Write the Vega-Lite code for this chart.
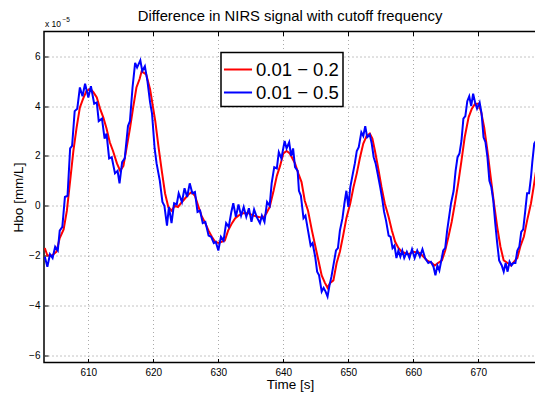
{
  "$schema": "https://vega.github.io/schema/vega-lite/v6.json",
  "width": 492,
  "height": 331,
  "autosize": {"type": "none"},
  "padding": {"left": 44, "top": 31.5, "right": 0, "bottom": 32.5},
  "background": "white",
  "title": {
    "text": "Difference in NIRS signal with cutoff frequency",
    "font": "Liberation Sans",
    "fontSize": 14.8,
    "fontWeight": "normal",
    "color": "black",
    "anchor": "middle",
    "baseline": "bottom",
    "offset": -22
  },
  "config": {
    "view": {"stroke": "black", "strokeWidth": 1.5},
    "axis": {
      "labelFont": "Liberation Sans",
      "titleFont": "Liberation Sans",
      "labelFontSize": 10,
      "labelColor": "black",
      "titleColor": "black",
      "titleFontSize": 13.5,
      "titleFontWeight": "normal",
      "domain": false,
      "tickColor": "black",
      "tickSize": -4,
      "tickWidth": 1,
      "gridDash": [1, 3],
      "gridColor": "#888888",
      "gridOpacity": 1,
      "gridWidth": 1
    }
  },
  "datasets": {
    "band_0_2": [
      {"t": 603.3, "hbo": -1.7}, {"t": 603.7, "hbo": -2.0}, {"t": 604.4, "hbo": -2.0}, {"t": 605.1, "hbo": -1.85},
      {"t": 605.6, "hbo": -1.3}, {"t": 606.2, "hbo": -0.95}, {"t": 606.7, "hbo": -0.2}, {"t": 607.2, "hbo": 1.0},
      {"t": 607.7, "hbo": 2.2}, {"t": 608.2, "hbo": 3.15}, {"t": 608.7, "hbo": 3.95}, {"t": 609.2, "hbo": 4.3},
      {"t": 609.7, "hbo": 4.6}, {"t": 610.3, "hbo": 4.7}, {"t": 610.8, "hbo": 4.55}, {"t": 611.3, "hbo": 4.35},
      {"t": 611.8, "hbo": 3.9}, {"t": 612.3, "hbo": 3.55}, {"t": 612.8, "hbo": 3.1}, {"t": 613.3, "hbo": 2.55},
      {"t": 613.8, "hbo": 2.2}, {"t": 614.4, "hbo": 1.7}, {"t": 614.9, "hbo": 1.4}, {"t": 615.4, "hbo": 1.6},
      {"t": 615.9, "hbo": 2.35}, {"t": 616.4, "hbo": 3.1}, {"t": 616.9, "hbo": 3.95}, {"t": 617.4, "hbo": 4.75},
      {"t": 617.9, "hbo": 5.1}, {"t": 618.2, "hbo": 5.4}, {"t": 618.9, "hbo": 5.28}, {"t": 619.5, "hbo": 4.68},
      {"t": 620.3, "hbo": 3.4}, {"t": 620.8, "hbo": 2.35}, {"t": 621.3, "hbo": 1.4}, {"t": 621.8, "hbo": 0.5},
      {"t": 622.3, "hbo": -0.05}, {"t": 622.8, "hbo": -0.2}, {"t": 623.3, "hbo": 0.0}, {"t": 623.8, "hbo": -0.05},
      {"t": 624.4, "hbo": 0.15}, {"t": 624.9, "hbo": 0.3}, {"t": 625.4, "hbo": 0.45}, {"t": 625.9, "hbo": 0.55},
      {"t": 626.4, "hbo": 0.4}, {"t": 626.9, "hbo": 0.0}, {"t": 627.4, "hbo": -0.4}, {"t": 627.9, "hbo": -0.65},
      {"t": 628.5, "hbo": -1.0}, {"t": 629.0, "hbo": -1.25}, {"t": 629.5, "hbo": -1.45}, {"t": 630.0, "hbo": -1.5},
      {"t": 630.5, "hbo": -1.45}, {"t": 631.0, "hbo": -1.4}, {"t": 631.5, "hbo": -1.0}, {"t": 632.1, "hbo": -0.7},
      {"t": 632.6, "hbo": -0.5}, {"t": 633.1, "hbo": -0.4}, {"t": 633.8, "hbo": -0.3}, {"t": 634.6, "hbo": -0.3},
      {"t": 635.4, "hbo": -0.4}, {"t": 636.2, "hbo": -0.45}, {"t": 636.9, "hbo": -0.5}, {"t": 637.4, "hbo": -0.3},
      {"t": 637.9, "hbo": -0.05}, {"t": 638.5, "hbo": 0.6}, {"t": 639.0, "hbo": 1.2}, {"t": 639.5, "hbo": 1.6},
      {"t": 640.0, "hbo": 2.1}, {"t": 640.5, "hbo": 2.2}, {"t": 641.0, "hbo": 2.1}, {"t": 641.5, "hbo": 1.85},
      {"t": 641.8, "hbo": 1.7}, {"t": 642.3, "hbo": 1.3}, {"t": 642.8, "hbo": 0.95}, {"t": 643.3, "hbo": 0.2},
      {"t": 643.8, "hbo": -0.2}, {"t": 644.4, "hbo": -1.0}, {"t": 644.9, "hbo": -1.6}, {"t": 645.4, "hbo": -2.2},
      {"t": 645.9, "hbo": -2.8}, {"t": 646.4, "hbo": -3.1}, {"t": 646.8, "hbo": -3.3}, {"t": 647.2, "hbo": -3.1},
      {"t": 647.7, "hbo": -3.0}, {"t": 648.2, "hbo": -2.3}, {"t": 648.7, "hbo": -1.85}, {"t": 649.2, "hbo": -1.2},
      {"t": 649.7, "hbo": -0.5}, {"t": 650.3, "hbo": 0.1}, {"t": 650.8, "hbo": 0.75}, {"t": 651.3, "hbo": 1.3},
      {"t": 651.8, "hbo": 1.95}, {"t": 652.3, "hbo": 2.5}, {"t": 652.8, "hbo": 2.8}, {"t": 653.3, "hbo": 2.9},
      {"t": 653.7, "hbo": 2.7}, {"t": 654.1, "hbo": 2.2}, {"t": 654.6, "hbo": 1.5}, {"t": 655.1, "hbo": 0.75},
      {"t": 655.6, "hbo": 0.1}, {"t": 656.2, "hbo": -0.45}, {"t": 656.7, "hbo": -1.0}, {"t": 657.2, "hbo": -1.45},
      {"t": 657.7, "hbo": -1.7}, {"t": 658.2, "hbo": -1.85}, {"t": 658.7, "hbo": -1.9}, {"t": 659.3, "hbo": -1.95},
      {"t": 660.0, "hbo": -1.85}, {"t": 661.0, "hbo": -1.9}, {"t": 662.1, "hbo": -2.2}, {"t": 662.8, "hbo": -2.3},
      {"t": 663.3, "hbo": -2.4}, {"t": 663.8, "hbo": -2.3}, {"t": 664.4, "hbo": -2.2}, {"t": 664.9, "hbo": -1.8},
      {"t": 665.4, "hbo": -1.25}, {"t": 665.9, "hbo": -0.65}, {"t": 666.4, "hbo": 0.1}, {"t": 666.9, "hbo": 0.9},
      {"t": 667.4, "hbo": 1.8}, {"t": 667.9, "hbo": 2.75}, {"t": 668.5, "hbo": 3.55}, {"t": 669.0, "hbo": 3.9},
      {"t": 669.5, "hbo": 4.1}, {"t": 670.0, "hbo": 4.1}, {"t": 670.4, "hbo": 3.8}, {"t": 670.9, "hbo": 3.15},
      {"t": 671.4, "hbo": 2.2}, {"t": 671.9, "hbo": 1.15}, {"t": 672.4, "hbo": 0.1}, {"t": 672.9, "hbo": -0.85},
      {"t": 673.4, "hbo": -1.65}, {"t": 673.9, "hbo": -2.2}, {"t": 674.5, "hbo": -2.3}, {"t": 675.0, "hbo": -2.4},
      {"t": 675.5, "hbo": -2.25}, {"t": 676.0, "hbo": -2.1}, {"t": 676.5, "hbo": -1.6}, {"t": 677.0, "hbo": -1.25},
      {"t": 677.5, "hbo": -0.6}, {"t": 678.1, "hbo": 0.1}, {"t": 678.5, "hbo": 0.75}, {"t": 678.85, "hbo": 1.35}
    ],
    "band_0_5": [
      {"t": 603.3, "hbo": -2.05}, {"t": 603.7, "hbo": -2.45}, {"t": 604.1, "hbo": -1.95}, {"t": 604.5, "hbo": -2.1},
      {"t": 604.9, "hbo": -1.65}, {"t": 605.3, "hbo": -1.8}, {"t": 605.6, "hbo": -1.0}, {"t": 606.0, "hbo": -0.85},
      {"t": 606.4, "hbo": 0.35}, {"t": 606.8, "hbo": 0.4}, {"t": 607.2, "hbo": 2.3}, {"t": 607.5, "hbo": 2.4},
      {"t": 607.9, "hbo": 3.8}, {"t": 608.3, "hbo": 3.9}, {"t": 608.7, "hbo": 4.75}, {"t": 609.1, "hbo": 4.4},
      {"t": 609.5, "hbo": 4.9}, {"t": 610.0, "hbo": 4.35}, {"t": 610.4, "hbo": 4.8}, {"t": 610.9, "hbo": 4.1},
      {"t": 611.3, "hbo": 4.15}, {"t": 611.6, "hbo": 3.4}, {"t": 612.1, "hbo": 3.5}, {"t": 612.5, "hbo": 2.7},
      {"t": 612.8, "hbo": 2.9}, {"t": 613.2, "hbo": 1.9}, {"t": 613.6, "hbo": 1.95}, {"t": 614.1, "hbo": 1.3},
      {"t": 614.5, "hbo": 1.4}, {"t": 614.8, "hbo": 0.9}, {"t": 615.2, "hbo": 1.75}, {"t": 615.6, "hbo": 1.9},
      {"t": 616.1, "hbo": 3.2}, {"t": 616.4, "hbo": 3.4}, {"t": 616.8, "hbo": 4.75}, {"t": 617.2, "hbo": 5.74},
      {"t": 617.5, "hbo": 5.55}, {"t": 618.0, "hbo": 5.84}, {"t": 618.3, "hbo": 5.41}, {"t": 618.7, "hbo": 5.6},
      {"t": 619.1, "hbo": 5.0}, {"t": 619.5, "hbo": 4.15}, {"t": 619.8, "hbo": 3.7}, {"t": 620.2, "hbo": 2.3},
      {"t": 620.5, "hbo": 1.7}, {"t": 621.0, "hbo": 1.0}, {"t": 621.4, "hbo": 0.15}, {"t": 621.7, "hbo": 0.0},
      {"t": 622.1, "hbo": -0.8}, {"t": 622.4, "hbo": -0.05}, {"t": 622.8, "hbo": -0.7}, {"t": 623.2, "hbo": 0.1},
      {"t": 623.6, "hbo": 0.05}, {"t": 623.9, "hbo": 0.5}, {"t": 624.4, "hbo": 0.15}, {"t": 624.8, "hbo": 0.7},
      {"t": 625.2, "hbo": 0.35}, {"t": 625.6, "hbo": 0.9}, {"t": 626.0, "hbo": 0.5}, {"t": 626.4, "hbo": 0.55},
      {"t": 626.8, "hbo": -0.25}, {"t": 627.2, "hbo": -0.2}, {"t": 627.6, "hbo": -0.7}, {"t": 628.0, "hbo": -0.65},
      {"t": 628.5, "hbo": -1.2}, {"t": 628.9, "hbo": -1.25}, {"t": 629.3, "hbo": -1.5}, {"t": 629.6, "hbo": -1.45},
      {"t": 630.0, "hbo": -1.8}, {"t": 630.4, "hbo": -1.25}, {"t": 630.8, "hbo": -1.4}, {"t": 631.2, "hbo": -0.7},
      {"t": 631.6, "hbo": -0.85}, {"t": 632.0, "hbo": -0.25}, {"t": 632.3, "hbo": 0.1}, {"t": 632.7, "hbo": -0.45},
      {"t": 633.1, "hbo": 0.05}, {"t": 633.5, "hbo": -0.4}, {"t": 633.9, "hbo": -0.05}, {"t": 634.3, "hbo": -0.45},
      {"t": 634.7, "hbo": -0.1}, {"t": 635.1, "hbo": -0.65}, {"t": 635.5, "hbo": -0.15}, {"t": 635.9, "hbo": -0.45},
      {"t": 636.4, "hbo": -0.7}, {"t": 636.7, "hbo": -0.4}, {"t": 637.1, "hbo": -0.65}, {"t": 637.5, "hbo": 0.15},
      {"t": 637.9, "hbo": 0.0}, {"t": 638.2, "hbo": 0.9}, {"t": 638.6, "hbo": 1.55}, {"t": 639.0, "hbo": 1.5},
      {"t": 639.3, "hbo": 2.15}, {"t": 639.7, "hbo": 1.9}, {"t": 640.2, "hbo": 2.6}, {"t": 640.5, "hbo": 2.3},
      {"t": 640.9, "hbo": 2.55}, {"t": 641.2, "hbo": 2.0}, {"t": 641.5, "hbo": 2.3}, {"t": 641.8, "hbo": 1.55},
      {"t": 642.2, "hbo": 1.4}, {"t": 642.4, "hbo": 0.6}, {"t": 642.7, "hbo": 0.4}, {"t": 643.1, "hbo": -0.5},
      {"t": 643.4, "hbo": -0.4}, {"t": 643.8, "hbo": -1.0}, {"t": 644.2, "hbo": -1.6}, {"t": 644.5, "hbo": -1.5},
      {"t": 644.9, "hbo": -2.05}, {"t": 645.2, "hbo": -2.65}, {"t": 645.5, "hbo": -2.8}, {"t": 645.9, "hbo": -3.45},
      {"t": 646.2, "hbo": -3.3}, {"t": 646.5, "hbo": -3.45}, {"t": 646.8, "hbo": -3.65}, {"t": 647.1, "hbo": -3.2},
      {"t": 647.4, "hbo": -2.85}, {"t": 647.7, "hbo": -2.4}, {"t": 648.1, "hbo": -1.8}, {"t": 648.4, "hbo": -1.7},
      {"t": 648.7, "hbo": -1.0}, {"t": 649.1, "hbo": -0.5}, {"t": 649.4, "hbo": 0.1}, {"t": 649.7, "hbo": 0.6},
      {"t": 650.0, "hbo": -0.05}, {"t": 650.3, "hbo": 0.75}, {"t": 650.7, "hbo": 1.3}, {"t": 651.0, "hbo": 1.7},
      {"t": 651.3, "hbo": 2.2}, {"t": 651.6, "hbo": 2.35}, {"t": 652.0, "hbo": 2.95}, {"t": 652.3, "hbo": 2.8},
      {"t": 652.6, "hbo": 3.2}, {"t": 652.9, "hbo": 2.75}, {"t": 653.3, "hbo": 2.85}, {"t": 653.6, "hbo": 2.5},
      {"t": 653.9, "hbo": 1.95}, {"t": 654.2, "hbo": 1.7}, {"t": 654.5, "hbo": 1.3}, {"t": 654.9, "hbo": 0.75},
      {"t": 655.2, "hbo": 0.3}, {"t": 655.5, "hbo": -0.25}, {"t": 655.8, "hbo": -0.6}, {"t": 656.2, "hbo": -1.2},
      {"t": 656.5, "hbo": -1.25}, {"t": 656.8, "hbo": -1.7}, {"t": 657.1, "hbo": -1.6}, {"t": 657.4, "hbo": -2.1},
      {"t": 657.7, "hbo": -1.8}, {"t": 658.0, "hbo": -2.05}, {"t": 658.3, "hbo": -1.8}, {"t": 658.6, "hbo": -2.1},
      {"t": 659.0, "hbo": -1.85}, {"t": 659.4, "hbo": -2.1}, {"t": 659.8, "hbo": -1.75}, {"t": 660.2, "hbo": -2.1},
      {"t": 660.6, "hbo": -1.8}, {"t": 661.0, "hbo": -2.05}, {"t": 661.4, "hbo": -1.75}, {"t": 661.8, "hbo": -2.1},
      {"t": 662.3, "hbo": -2.3}, {"t": 662.7, "hbo": -2.25}, {"t": 663.1, "hbo": -2.45}, {"t": 663.4, "hbo": -2.8},
      {"t": 663.7, "hbo": -2.4}, {"t": 664.0, "hbo": -2.6}, {"t": 664.3, "hbo": -2.2}, {"t": 664.6, "hbo": -1.8},
      {"t": 664.9, "hbo": -1.7}, {"t": 665.2, "hbo": -1.0}, {"t": 665.5, "hbo": -0.45}, {"t": 665.8, "hbo": 0.1},
      {"t": 666.2, "hbo": 0.6}, {"t": 666.5, "hbo": 1.4}, {"t": 666.8, "hbo": 1.95}, {"t": 667.1, "hbo": 2.1},
      {"t": 667.4, "hbo": 2.6}, {"t": 667.7, "hbo": 3.5}, {"t": 668.0, "hbo": 3.6}, {"t": 668.3, "hbo": 4.2},
      {"t": 668.6, "hbo": 4.4}, {"t": 668.9, "hbo": 4.0}, {"t": 669.2, "hbo": 4.5}, {"t": 669.5, "hbo": 4.15},
      {"t": 669.8, "hbo": 3.9}, {"t": 670.2, "hbo": 4.15}, {"t": 670.5, "hbo": 3.7}, {"t": 670.8, "hbo": 2.75},
      {"t": 671.1, "hbo": 2.55}, {"t": 671.4, "hbo": 1.95}, {"t": 671.7, "hbo": 1.0}, {"t": 672.0, "hbo": 0.75},
      {"t": 672.3, "hbo": 0.2}, {"t": 672.6, "hbo": -0.7}, {"t": 672.9, "hbo": -1.5}, {"t": 673.2, "hbo": -2.2},
      {"t": 673.6, "hbo": -2.4}, {"t": 673.9, "hbo": -2.65}, {"t": 674.2, "hbo": -2.3}, {"t": 674.5, "hbo": -2.65},
      {"t": 674.8, "hbo": -2.25}, {"t": 675.1, "hbo": -2.4}, {"t": 675.4, "hbo": -2.3}, {"t": 675.7, "hbo": -2.3},
      {"t": 676.0, "hbo": -1.8}, {"t": 676.3, "hbo": -1.65}, {"t": 676.6, "hbo": -1.05}, {"t": 676.9, "hbo": -0.95},
      {"t": 677.2, "hbo": -0.25}, {"t": 677.5, "hbo": 0.5}, {"t": 677.8, "hbo": 0.5}, {"t": 678.1, "hbo": 1.15},
      {"t": 678.3, "hbo": 1.75}, {"t": 678.6, "hbo": 2.5}, {"t": 678.85, "hbo": 2.6}
    ]
  },
  "resolve": {"axis": {"x": "independent"}},
  "layer": [
    {
      "data": {"name": "band_0_2"},
      "mark": {"type": "line", "strokeWidth": 2, "clip": true},
      "encoding": {
        "x": {
          "field": "t",
          "type": "quantitative",
          "scale": {"domain": [603.18, 678.87], "nice": false, "zero": false},
          "axis": {
            "title": "Time [s]",
            "orient": "bottom",
            "values": [610, 620, 630, 640, 650, 660, 670],
            "grid": true,
            "gridColor": "#aaaaaa",
            "labelPadding": 9,
            "titlePadding": 0
          }
        },
        "y": {
          "field": "hbo",
          "type": "quantitative",
          "scale": {"domain": [-6.3, 7], "nice": false, "zero": false},
          "axis": {
            "title": "Hbo [mm/L]",
            "orient": "left",
            "values": [-6, -4, -2, 0, 2, 4, 6],
            "grid": true,
            "labelPadding": 8,
            "titlePadding": 3
          }
        },
        "color": {
          "datum": "0.01 − 0.2",
          "scale": {"domain": ["0.01 − 0.2", "0.01 − 0.5"], "range": ["#ff0000", "#0000ff"]},
          "legend": {
            "title": null,
            "orient": "none",
            "legendX": 177,
            "legendY": 21,
            "direction": "vertical",
            "fillColor": "white",
            "strokeColor": "black",
            "padding": 4,
            "symbolType": "M-1.17,0H1.17",
            "symbolSize": 576,
            "symbolStrokeWidth": 2,
            "labelFont": "Liberation Sans",
            "labelFontSize": 18.5,
            "labelColor": "black",
            "labelOffset": 5,
            "rowPadding": 0,
            "encode": {"legend": {"update": {"strokeWidth": {"value": 1.5}}}}
          }
        }
      }
    },
    {
      "data": {"name": "band_0_5"},
      "mark": {"type": "line", "strokeWidth": 2, "clip": true},
      "encoding": {
        "x": {
          "field": "t",
          "type": "quantitative",
          "axis": {
            "title": null,
            "orient": "top",
            "values": [610, 620, 630, 640, 650, 660, 670],
            "labels": false,
            "grid": false
          }
        },
        "y": {"field": "hbo", "type": "quantitative"},
        "color": {"datum": "0.01 − 0.5"}
      }
    },
    {
      "data": {"values": [{"label": "x 10"}]},
      "mark": {"type": "text", "font": "Liberation Sans", "fontSize": 8.5, "align": "left", "baseline": "alphabetic", "dx": 1, "dy": -5, "color": "black"},
      "encoding": {
        "x": {"datum": 603.18, "type": "quantitative", "axis": null},
        "y": {"datum": 7, "type": "quantitative"},
        "text": {"field": "label"}
      }
    },
    {
      "data": {"values": [{"label": "−5"}]},
      "mark": {"type": "text", "font": "Liberation Sans", "fontSize": 6.5, "align": "left", "baseline": "alphabetic", "dx": 18.5, "dy": -10, "color": "black"},
      "encoding": {
        "x": {"datum": 603.18, "type": "quantitative", "axis": null},
        "y": {"datum": 7, "type": "quantitative"},
        "text": {"field": "label"}
      }
    }
  ]
}
